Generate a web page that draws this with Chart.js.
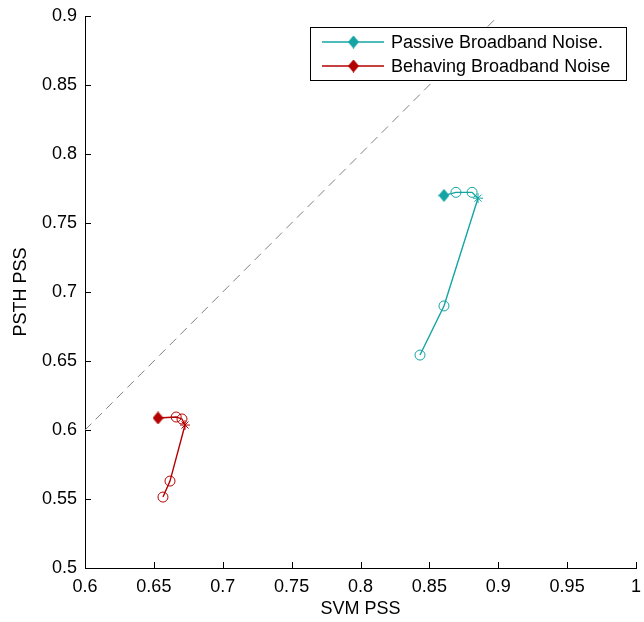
<!DOCTYPE html>
<html>
<head>
<meta charset="utf-8">
<script src="https://cdn.jsdelivr.net/npm/chart.js@4.4.1/dist/chart.umd.min.js"></script>
<style>
  html, body { margin: 0; padding: 0; background: #fff; }
  #wrap { width: 644px; height: 622px; }
</style>
</head>
<body>
<div id="wrap"><canvas id="pss"></canvas></div>
<script>
// SVM vs PSTH performance, broadband noise, passive and behaving
const passiveSvm  = [0.8606, 0.8693, 0.8810, 0.8853, 0.8606, 0.8432];
const passivePsth = [0.7700, 0.7722, 0.7722, 0.7680, 0.6899, 0.6543];
const behaveSvm   = [0.6530, 0.6662, 0.6704, 0.6726, 0.6617, 0.6566];
const behavePsth  = [0.6087, 0.6094, 0.6080, 0.6036, 0.5630, 0.5514];
const markers     = ['diamond', 'circle', 'circle', 'star', 'circle', 'circle'];
const unityLine   = [0.6, 0.9];

const seriesNames = ['Passive Broadband Noise.', 'Behaving Broadband Noise'];
const teal = '#14a4a4';
const red = '#b30000';
const FONT = '"Liberation Sans", Arial, sans-serif';
const FS = 18;

function toPoints(xs, ys) {
  return xs.map((x, i) => ({ x: x, y: ys[i] }));
}

// filled diamond, a bit taller than wide
function diamondImage(color) {
  const c = document.createElement('canvas');
  c.width = 11; c.height = 13;
  const g = c.getContext('2d');
  g.fillStyle = color;
  g.beginPath();
  g.moveTo(5.5, 0);
  g.lineTo(11, 6.5);
  g.lineTo(5.5, 13);
  g.lineTo(0, 6.5);
  g.closePath();
  g.fill();
  return c;
}

function markerSet(color) {
  const dia = diamondImage(color);
  return {
    pointStyle: markers.map(m => m === 'diamond' ? dia : m),
    pointRadius: 5,
    pointBackgroundColor: 'rgba(0,0,0,0)',
    pointBorderColor: color,
    pointBorderWidth: 1,
  };
}

// inward tick marks on the left and bottom axes
const inwardTicks = {
  id: 'inwardTicks',
  afterDraw(chart) {
    const ctx = chart.ctx;
    const xs = chart.scales.x, ys = chart.scales.y;
    const a = chart.chartArea;
    ctx.save();
    ctx.strokeStyle = '#000';
    ctx.lineWidth = 1;
    ctx.beginPath();
    xs.ticks.forEach(t => {
      const px = Math.round(xs.getPixelForValue(t.value)) + 0.5;
      ctx.moveTo(px, a.bottom);
      ctx.lineTo(px, a.bottom - 6);
    });
    ys.ticks.forEach(t => {
      const py = Math.round(ys.getPixelForValue(t.value)) + 0.5;
      ctx.moveTo(a.left, py);
      ctx.lineTo(a.left + 6, py);
    });
    ctx.stroke();
    ctx.restore();
  }
};

// boxed legend in the upper right corner
const boxLegend = {
  id: 'boxLegend',
  afterDraw(chart) {
    const ctx = chart.ctx;
    const bx = 310, by = 27, bw = 316, bh = 53;
    ctx.save();
    ctx.fillStyle = '#fff';
    ctx.fillRect(bx, by, bw, bh);
    ctx.strokeStyle = '#000';
    ctx.lineWidth = 1;
    ctx.strokeRect(bx + 0.5, by + 0.5, bw, bh);
    [teal, red].forEach((c, i) => {
      const y = by + 15 + i * 24;
      ctx.strokeStyle = c;
      ctx.lineWidth = 1.3;
      ctx.beginPath();
      ctx.moveTo(322, y);
      ctx.lineTo(384, y);
      ctx.stroke();
      ctx.drawImage(diamondImage(c), 348, y - 6.5);
      ctx.fillStyle = '#000';
      ctx.font = FS + 'px ' + FONT;
      ctx.textBaseline = 'middle';
      ctx.textAlign = 'left';
      ctx.fillText(seriesNames[i], 391, y + 1);
    });
    ctx.restore();
  }
};

new Chart(document.getElementById('pss'), {
  type: 'line',
  data: {
    datasets: [
      {
        label: 'unity',
        data: toPoints(unityLine, unityLine),
        borderColor: '#808080',
        borderWidth: 1,
        borderDash: [9, 6],
        pointRadius: 0,
      },
      Object.assign({
        label: seriesNames[0],
        data: toPoints(passiveSvm, passivePsth),
        borderColor: teal,
        borderWidth: 1.4,
      }, markerSet(teal)),
      Object.assign({
        label: seriesNames[1],
        data: toPoints(behaveSvm, behavePsth),
        borderColor: red,
        borderWidth: 1.4,
      }, markerSet(red)),
    ],
  },
  options: {
    responsive: true,
    maintainAspectRatio: false,
    animation: false,
    layout: { padding: { top: 16, right: 8, left: 0, bottom: 0 } },
    plugins: { legend: { display: false }, tooltip: { enabled: false } },
    scales: {
      x: {
        type: 'linear',
        min: 0.6,
        max: 1,
        grid: { display: false, drawTicks: false },
        border: { display: true, color: '#000', width: 1 },
        ticks: {
          stepSize: 0.05,
          padding: 8,
          color: '#000',
          font: { family: FONT, size: FS },
          maxRotation: 0,
          callback: v => String(+v.toFixed(2)),
        },
        title: {
          display: true,
          text: 'SVM PSS',
          color: '#000',
          font: { family: FONT, size: FS },
          padding: { top: 0, bottom: 2 },
        },
        afterFit: s => { s.height = 54; s.paddingLeft = 0; s.paddingRight = 0; },
      },
      y: {
        type: 'linear',
        min: 0.5,
        max: 0.9,
        grid: { display: false, drawTicks: false },
        border: { display: true, color: '#000', width: 1 },
        ticks: {
          stepSize: 0.05,
          padding: 8,
          color: '#000',
          font: { family: FONT, size: FS },
          callback: v => String(+v.toFixed(2)),
        },
        title: {
          display: true,
          text: 'PSTH PSS',
          color: '#000',
          font: { family: FONT, size: FS },
          padding: { top: 10, bottom: 0 },
        },
        afterFit: s => { s.width = 85; s.paddingTop = 0; s.paddingBottom = 0; },
      },
    },
  },
  plugins: [inwardTicks, boxLegend],
});
</script>
</body>
</html>
